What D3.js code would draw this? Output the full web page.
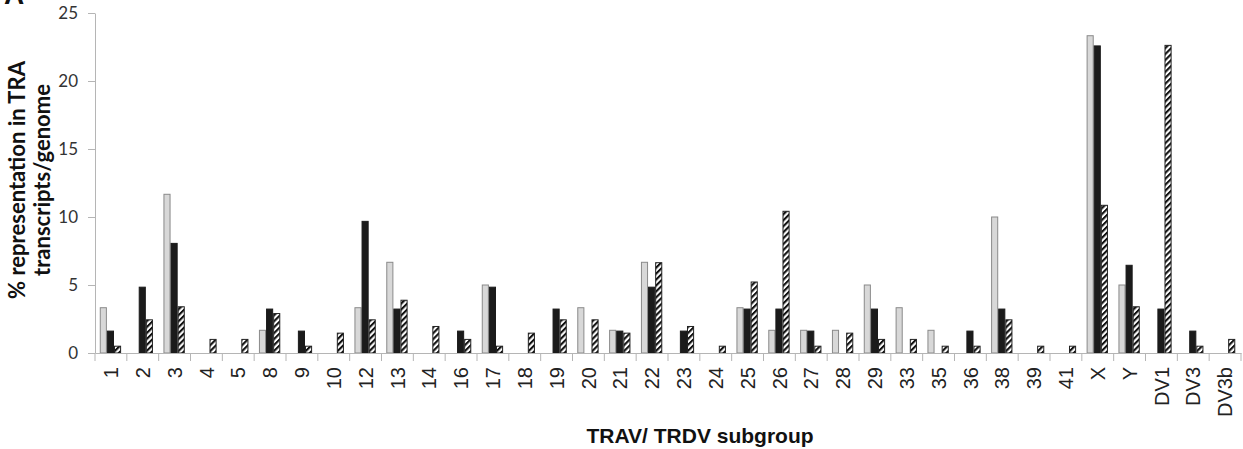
<!DOCTYPE html>
<html>
<head>
<meta charset="utf-8">
<title>TRAV/TRDV subgroup representation</title>
<style>
  body{margin:0;background:#fff}
  svg{display:block}
</style>
</head>
<body>
<script src="https://d3js.org/d3.v7.min.js"></script>
<script>
// TRAV / TRDV subgroups along the x axis
var subgroups = ["1","2","3","4","5","8","9","10","12","13","14","16","17","18","19","20",
                 "21","22","23","24","25","26","27","28","29","33","35","36","38","39","41",
                 "X","Y","DV1","DV3","DV3b"];

// % representation
var seriesLight = [3.33,0,11.67,0,0,1.67,0,0,3.33,6.67,0,0,5.0,0,0,3.33,
                   1.67,6.67,0,0,3.33,1.67,1.67,1.67,5.0,3.33,1.67,0,10.0,0,0,
                   23.33,5.0,0,0,0];
var seriesDark  = [1.61,4.84,8.06,0,0,3.23,1.61,0,9.68,3.23,0,1.61,4.84,0,3.23,0,
                   1.61,4.84,1.61,0,3.23,3.23,1.61,0,3.23,0,0,1.61,3.23,0,0,
                   22.58,6.45,3.23,1.61,0];
var seriesHatch = [0.5,2.44,3.4,1.0,1.0,2.9,0.5,1.46,2.44,3.88,1.95,1.0,0.5,1.46,2.44,2.44,
                   1.46,6.64,1.95,0.5,5.22,10.42,0.5,1.46,1.0,1.0,0.5,0.5,2.44,0.5,0.5,
                   10.86,3.4,22.62,0.5,1.0];

var seriesNames = ["light","dark","hatch"];
var yTicks = [0,5,10,15,20,25];

var W = 1243, H = 449;
var margin = {top:13, right:2, bottom:96, left:95},
    width  = W - margin.left - margin.right,
    height = H - margin.top - margin.bottom;

var svg = d3.select("body").append("svg")
    .attr("width", W).attr("height", H);

var defs = svg.append("defs");
var pat = defs.append("pattern")
    .attr("id", "hatch")
    .attr("patternUnits", "userSpaceOnUse")
    .attr("width", 4.2).attr("height", 4.2)
    .attr("patternTransform", "rotate(45)");
pat.append("rect").attr("width", 4.2).attr("height", 4.2).attr("fill", "#fff");
pat.append("line").attr("x1", 1).attr("y1", 0).attr("x2", 1).attr("y2", 4.2)
    .attr("stroke", "#111").attr("stroke-width", 2.2);

var chart = svg.append("g")
    .attr("transform", "translate(" + margin.left + "," + margin.top + ")");

var x0 = d3.scaleBand().domain(subgroups).range([0, width]).padding(0);
var x1 = d3.scaleBand().domain(seriesNames)
    .range([x0.bandwidth() * 0.15, x0.bandwidth() * 0.82]).padding(0);
var y = d3.scaleLinear().domain([0, 25]).range([height, 0]);

var data = subgroups.map(function(s, i){
  return {key: s, values: [
    {name: "light", v: seriesLight[i]},
    {name: "dark",  v: seriesDark[i]},
    {name: "hatch", v: seriesHatch[i]}
  ]};
});

var fills  = {light: "#d8d8d8", dark: "#1b1b1b", hatch: "url(#hatch)"};
var strokes = {light: "#8a8a8a", dark: "#1b1b1b", hatch: "#222"};

var groups = chart.selectAll(".grp")
    .data(data)
    .enter().append("g")
    .attr("class", "grp")
    .attr("transform", function(d){ return "translate(" + x0(d.key) + ",0)"; });

groups.selectAll("rect")
    .data(function(d){ return d.values.filter(function(e){ return e.v > 0; }); })
    .enter().append("rect")
    .attr("x", function(d){ return x1(d.name) + 0.5; })
    .attr("y", function(d){ return y(d.v); })
    .attr("width", x1.bandwidth() - 1)
    .attr("height", function(d){ return height - y(d.v); })
    .attr("fill", function(d){ return fills[d.name]; })
    .attr("stroke", function(d){ return strokes[d.name]; })
    .attr("stroke-width", 1);

// y axis
var yAxis = chart.append("g")
    .call(d3.axisLeft(y).tickValues(yTicks).tickSize(7).tickSizeOuter(0).tickPadding(10));
yAxis.select(".domain").attr("stroke", "#b5b5b5");
yAxis.selectAll(".tick line").attr("stroke", "#b5b5b5");
yAxis.selectAll(".tick text")
    .attr("font-family", "Lato, sans-serif")
    .attr("font-size", "17px")
    .attr("fill", "#333");

// x axis
var xAxis = chart.append("g")
    .attr("transform", "translate(0," + height + ")")
    .call(d3.axisBottom(x0).tickSize(0).tickSizeOuter(0));
xAxis.select(".domain").attr("stroke", "#b5b5b5");
xAxis.selectAll(".tick text")
    .attr("transform", "rotate(-90)")
    .attr("text-anchor", "end")
    .attr("x", -14).attr("y", 0).attr("dy", "0.36em")
    .attr("font-family", "'Liberation Sans', Arial, sans-serif")
    .attr("font-size", "20px")
    .attr("fill", "#222");

// separator ticks between subgroups
var edges = subgroups.map(function(s){ return x0(s); }).concat([width]);
xAxis.selectAll(".sep")
    .data(edges)
    .enter().append("line")
    .attr("class", "sep")
    .attr("x1", function(d){ return d; }).attr("x2", function(d){ return d; })
    .attr("y1", 0).attr("y2", 8)
    .attr("stroke", "#b5b5b5");

// axis titles
svg.append("text")
    .attr("x", 700)
    .attr("y", 443)
    .attr("text-anchor", "middle")
    .attr("font-family", "'Liberation Sans', Arial, sans-serif")
    .attr("font-weight", "bold")
    .attr("font-size", "21px")
    .attr("fill", "#111")
    .text("TRAV/ TRDV subgroup");

var yt = svg.append("text")
    .attr("transform", "translate(0,180) rotate(-90)")
    .attr("text-anchor", "middle")
    .attr("font-family", "Lato, sans-serif")
    .attr("font-weight", "bold")
    .attr("font-size", "22px")
    .attr("fill", "#111");
yt.append("tspan").attr("x", 0).attr("y", 25).text("% representation in TRA");
yt.append("tspan").attr("x", 0).attr("y", 50).text("transcripts/genome");

// panel letter, cut off at the top as in the source figure
svg.append("text")
    .attr("x", 4).attr("y", 4)
    .attr("font-family", "'Liberation Sans', Arial, sans-serif")
    .attr("font-weight", "bold")
    .attr("font-size", "28px")
    .attr("fill", "#111")
    .text("A");
</script>
</body>
</html>
